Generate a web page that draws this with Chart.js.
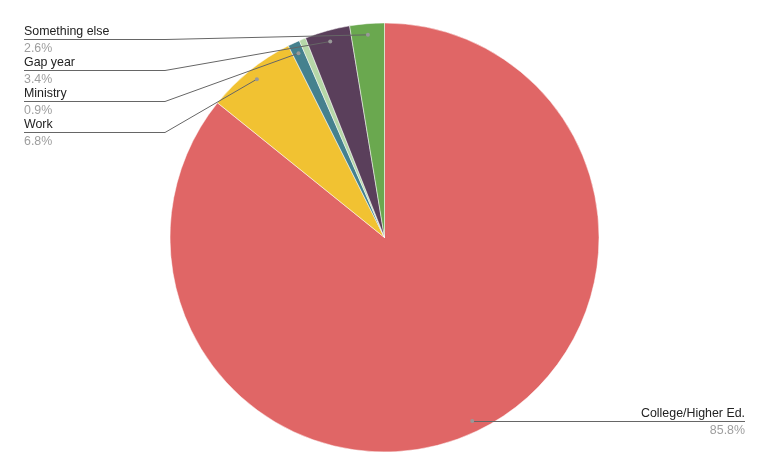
<!DOCTYPE html>
<html>
<head>
<meta charset="utf-8">
<script src="https://cdn.jsdelivr.net/npm/chart.js@4"></script>
<style>
  html, body { margin: 0; padding: 0; background: #fff; }
  #wrap { width: 769px; height: 476px; position: relative; }
</style>
</head>
<body>
<div id="wrap"><canvas id="pie"></canvas></div>
<script>
// data
const categories = ['College/Higher Ed.', 'Work', 'Ministry', 'Other', 'Gap year', 'Something else'];
const percents = [85.8, 6.8, 0.9, 0.5, 3.4, 2.6];
const sliceColors = ['#e06666', '#f1c232', '#45818e', '#b6d7a8', '#5a3f5b', '#6aa84f'];
const labelled = [true, true, true, false, true, true];

// where each callout text goes (left side stacked, college on the right)
const calloutPos = {
    'Something else': { side: 'left', y: 39 },
    'Gap year': { side: 'left', y: 70 },
    'Ministry': { side: 'left', y: 101 },
    'Work': { side: 'left', y: 132 },
    'College/Higher Ed.': { side: 'right', y: 421 }
};

// leader lines + labels like google pie charts
const calloutPlugin = {
    id: 'callouts',
    afterDatasetsDraw(chart) {
        const ctx = chart.ctx;
        const arcs = chart.getDatasetMeta(0).data;
        ctx.save();
        ctx.font = '12.4px "Liberation Sans", Arial, sans-serif';
        arcs.forEach((arc, i) => {
            if (!labelled[i]) return;
            const pos = calloutPos[categories[i]];
            const mid = (arc.startAngle + arc.endAngle) / 2;
            const r = arc.outerRadius * 0.948;
            const px = arc.x + Math.cos(mid) * r;
            const py = arc.y + Math.sin(mid) * r;

            ctx.strokeStyle = '#666666';
            ctx.lineWidth = 1;
            ctx.beginPath();
            if (pos.side === 'left') {
                ctx.moveTo(24, pos.y + 0.5);
                ctx.lineTo(165, pos.y + 0.5);
                ctx.lineTo(px, py);
            } else {
                ctx.moveTo(745, pos.y + 0.5);
                ctx.lineTo(px, pos.y + 0.5);
            }
            ctx.stroke();

            // anchor dot
            ctx.fillStyle = '#999999';
            ctx.beginPath();
            ctx.arc(px, py, 2, 0, Math.PI * 2);
            ctx.fill();

            const tx = pos.side === 'left' ? 24 : 745;
            ctx.textAlign = pos.side === 'left' ? 'left' : 'right';
            ctx.textBaseline = 'alphabetic';
            ctx.fillStyle = '#222222';
            ctx.fillText(categories[i], tx, pos.y - 4);
            ctx.fillStyle = '#9e9e9e';
            ctx.fillText(percents[i].toFixed(1) + '%', tx, pos.y + 13);
        });
        ctx.restore();
    }
};

new Chart(document.getElementById('pie'), {
    type: 'pie',
    data: {
        labels: categories,
        datasets: [{
            data: percents,
            backgroundColor: sliceColors,
            borderColor: '#ffffff',
            borderWidth: 0.5
        }]
    },
    options: {
        responsive: true,
        maintainAspectRatio: false,
        animation: false,
        radius: 214.5,
        layout: { padding: { top: 23, bottom: 24 } },
        plugins: {
            legend: { display: false },
            tooltip: { enabled: false }
        }
    },
    plugins: [calloutPlugin]
});
</script>
</body>
</html>
